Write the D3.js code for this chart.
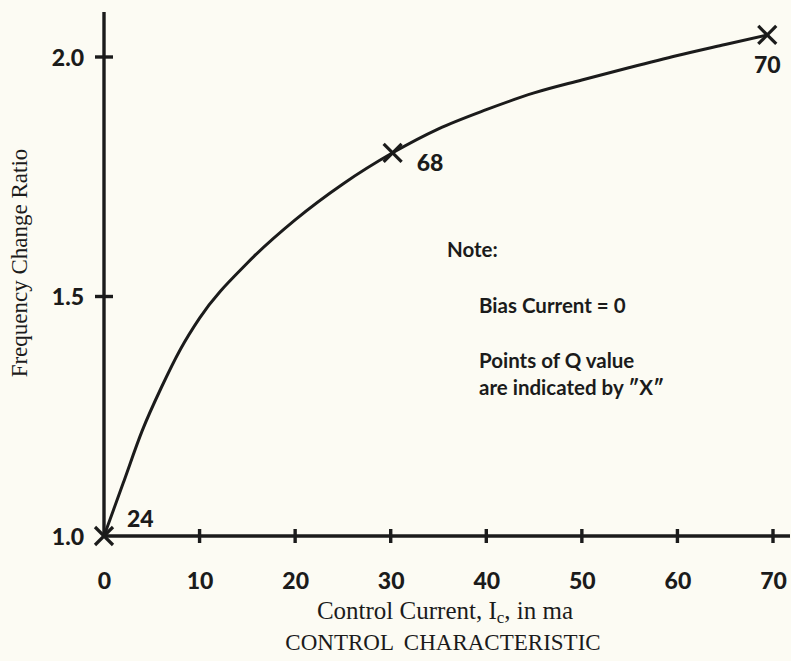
<!DOCTYPE html>
<html>
<head>
<meta charset="utf-8">
<script src="https://cdn.jsdelivr.net/npm/d3@7"></script>
<style>
  html, body { margin: 0; padding: 0; background: #fcfbf3; }
  svg { display: block; }
</style>
</head>
<body>
<svg id="chart" width="791" height="661"></svg>
<script>
// ---- data ----
const currentMa = [0, 2, 4, 6, 8, 10, 15, 20, 25, 30.2, 35, 40, 45, 50, 55, 60, 65, 69.4];
const freqRatio = [1.0, 1.11, 1.22, 1.31, 1.39, 1.455, 1.57, 1.66, 1.735, 1.80, 1.85, 1.89, 1.925, 1.952, 1.978, 2.003, 2.026, 2.046];
const qPointsX = [0, 30.2, 69.4];
const qPointsY = [1.0, 1.80, 2.046];
const qValues = ["24", "68", "70"];
const xTicks = [0, 10, 20, 30, 40, 50, 60, 70];
const yTicks = [1.0, 1.5, 2.0];
const yTickLabels = ["1.0", "1.5", "2.0"];
const noteLines = ["Note:", "Bias Current = 0", "Points of Q value", "are indicated by \u2033X\u2033"];

const ink = "#1b1b1b";
const svg = d3.select("#chart");
const x = d3.scaleLinear().domain([0, 70]).range([104, 773]);
const y = d3.scaleLinear().domain([1, 2]).range([536, 57]);
const boldFont = "Lato, 'DejaVu Sans', sans-serif";
const serif = "'Liberation Serif', 'DejaVu Serif', serif";

// axes lines
svg.append("line").attr("x1", x(0)).attr("x2", 790).attr("y1", y(1)).attr("y2", y(1))
  .attr("stroke", ink).attr("stroke-width", 3.4);
svg.append("line").attr("x1", x(0)).attr("x2", x(0)).attr("y1", 12).attr("y2", y(1))
  .attr("stroke", ink).attr("stroke-width", 3.4);

// x axis ticks
const xAxis = d3.axisBottom(x).tickValues(xTicks).tickSize(0).tickPadding(37)
  .tickFormat(d3.format("d"));
const gx = svg.append("g").attr("transform", `translate(0,${y(1)})`).call(xAxis);
gx.select(".domain").remove();
gx.selectAll("text").attr("fill", ink).style("font-family", boldFont)
  .style("font-weight", 900).style("font-size", "23px");
svg.selectAll(".xtick").data(xTicks.filter(d => d > 0)).enter().append("line")
  .attr("x1", d => x(d)).attr("x2", d => x(d))
  .attr("y1", y(1) - 7).attr("y2", y(1) + 7)
  .attr("stroke", ink).attr("stroke-width", 3.4);

// y axis ticks
const yAxis = d3.axisLeft(y).tickValues(yTicks).tickSize(0).tickPadding(20)
  .tickFormat((d, i) => yTickLabels[i]);
const gy = svg.append("g").attr("transform", `translate(${x(0)},0)`).call(yAxis);
gy.select(".domain").remove();
gy.selectAll("text").attr("fill", ink).style("font-family", boldFont)
  .style("font-weight", 900).style("font-size", "23px").attr("dy", "0.35em");
svg.selectAll(".ytick").data(yTicks.filter(d => d > 1)).enter().append("line")
  .attr("x1", x(0) - 9).attr("x2", x(0) + 9)
  .attr("y1", d => y(d)).attr("y2", d => y(d))
  .attr("stroke", ink).attr("stroke-width", 3.4);

// curve
const line = d3.line().x((d, i) => x(currentMa[i])).y((d, i) => y(freqRatio[i]))
  .curve(d3.curveMonotoneX);
svg.append("path").datum(freqRatio).attr("d", line)
  .attr("fill", "none").attr("stroke", ink).attr("stroke-width", 3);

// X markers
const qpts = qPointsX.map((v, i) => ({ x: v, y: qPointsY[i], q: qValues[i] }));
const m = 9;
const mk = svg.selectAll(".mk").data(qpts).enter().append("g")
  .attr("transform", d => `translate(${x(d.x)},${y(d.y)})`);
mk.append("line").attr("x1", -m).attr("y1", -m).attr("x2", m).attr("y2", m)
  .attr("stroke", ink).attr("stroke-width", 3.2);
mk.append("line").attr("x1", -m).attr("y1", m).attr("x2", m).attr("y2", -m)
  .attr("stroke", ink).attr("stroke-width", 3.2);

// Q labels
const qOffsets = [[23, -9, "start"], [24, 18, "start"], [0, 38, "middle"]];
svg.selectAll(".ql").data(qpts).enter().append("text")
  .attr("x", (d, i) => x(d.x) + qOffsets[i][0])
  .attr("y", (d, i) => y(d.y) + qOffsets[i][1])
  .attr("text-anchor", (d, i) => qOffsets[i][2])
  .attr("fill", ink).style("font-family", boldFont).style("font-weight", 900)
  .style("font-size", "23px").text(d => d.q);

// note
const noteX = [447, 479, 479, 479];
const noteY = [257, 313, 368, 395];
svg.selectAll(".note").data(noteLines).enter().append("text")
  .attr("x", (d, i) => noteX[i]).attr("y", (d, i) => noteY[i])
  .attr("fill", ink).style("font-family", boldFont).style("font-weight", 700)
  .style("font-size", "20.5px").text(d => d);

// y axis title
svg.append("text").attr("transform", "translate(27,263) rotate(-90)")
  .attr("text-anchor", "middle").attr("fill", ink)
  .style("font-family", serif).style("font-size", "23px")
  .text("Frequency Change Ratio");

// x axis title
const xt = svg.append("text").attr("x", 445).attr("y", 619).attr("text-anchor", "middle")
  .attr("fill", ink).style("font-family", serif).style("font-size", "25px");
xt.append("tspan").text("Control Current, I");
xt.append("tspan").attr("baseline-shift", "-25%").style("font-size", "17px").text("c");
xt.append("tspan").text(", in ma");

svg.append("text").attr("x", 443).attr("y", 650).attr("text-anchor", "middle")
  .attr("fill", ink).style("font-family", serif).style("font-size", "23px")
  .style("word-spacing", "5px")
  .text("CONTROL CHARACTERISTIC");
</script>
</body>
</html>
